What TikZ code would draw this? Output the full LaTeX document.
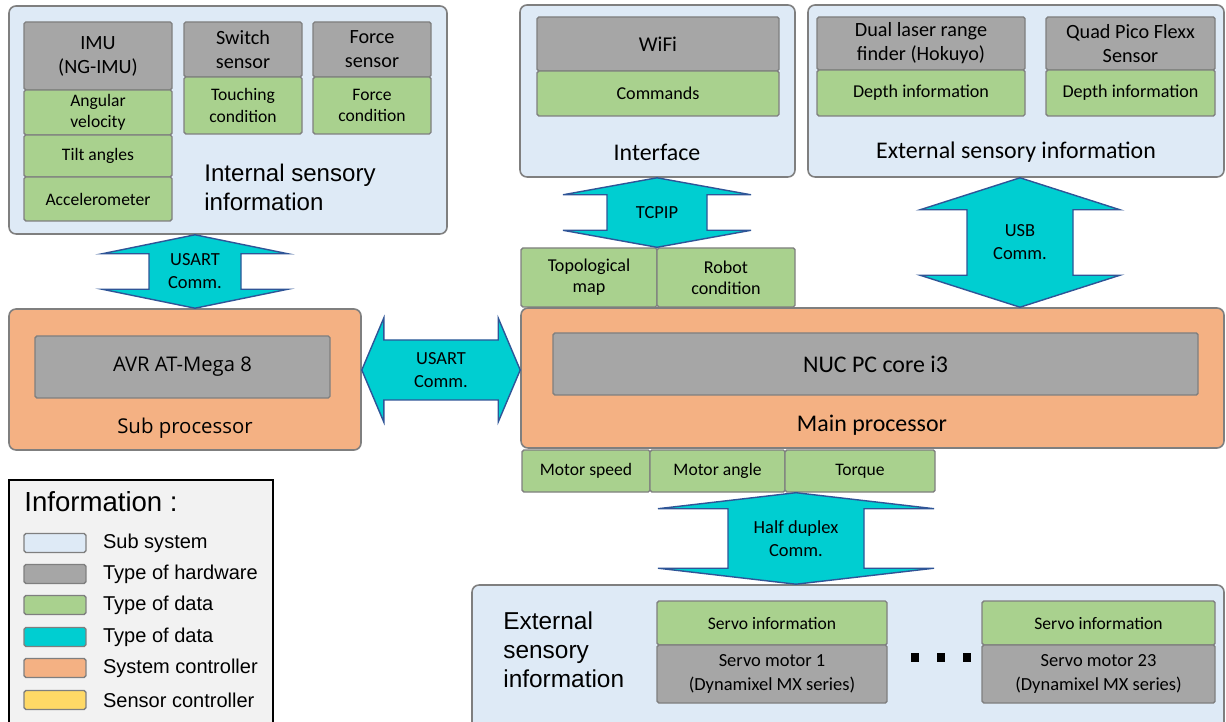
\documentclass[tikz,border=0pt]{standalone}
\usepackage{fontspec}
\setmainfont{Carlito}
\newfontfamily\arialfont{Liberation Sans}
\newfontfamily\segoefont{Open Sans}
\usetikzlibrary{calc,positioning}

\definecolor{subsysblue}{HTML}{DEEAF6}
\definecolor{hwgray}{HTML}{A6A6A6}
\definecolor{datagreen}{HTML}{A9D18E}
\definecolor{commcyan}{HTML}{00CED1}
\definecolor{ctrlorange}{HTML}{F4B183}
\definecolor{sensyellow}{HTML}{FFD966}
\definecolor{legendbg}{HTML}{F2F2F2}
\definecolor{boxborder}{HTML}{7F7F7F}
\definecolor{arrowborder}{HTML}{2F5597}

\newcommand\fsz[2]{\fontsize{#1pt}{#2pt}\selectfont}

% vertical two-headed link: upper node, lower node, x coordinate, shaft half, head half, head length, label
\newcommand\vcomm[7]{%
  \draw[comm] (#3 |- #1.south) -- ++(#5,#6) -- ++({#4-#5},0)
    -- ($(#3 |- #2.north)+(#4,-#6)$) -- ++({#5-#4},0) -- (#3 |- #2.north)
    -- ++(-#5,-#6) -- ++({#5-#4},0) -- ($(#3 |- #1.south)+(-#4,#6)$)
    -- ++({#4-#5},0) -- cycle;
  \node[commlabel] at ($(#3 |- #1.south)!0.5!(#3 |- #2.north)$) {#7};}

% horizontal two-headed link: left node, right node, y coordinate, shaft half, head half, head length, label
\newcommand\hcomm[7]{%
  \draw[comm] (#1.east |- #3) -- ++(#6,-#5) -- ++(0,{#5-#4})
    -- ($(#2.west |- #3)+(-#6,-#4)$) -- ++(0,{#4-#5}) -- (#2.west |- #3)
    -- ++(-#6,#5) -- ++(0,{#4-#5}) -- ($(#1.east |- #3)+(#6,#4)$)
    -- ++(0,{#5-#4}) -- cycle;
  \node[commlabel] at ($(#1.east |- #3)!0.5!(#2.west |- #3)$) {#7};}

\tikzset{
  box/.style n args={4}{at={({(#1+#3)/2},{(#2+#4)/2})}, minimum width={(#3-#1)*0.02cm}, minimum height={(#4-#2)*0.02cm}},
  subsys/.style={draw=boxborder, fill=subsysblue, line width=0.9pt, rounded corners=4pt, inner sep=0pt},
  ctrl/.style={draw=boxborder, fill=ctrlorange, line width=0.9pt, rounded corners=4pt, inner sep=0pt},
  hw/.style={draw=boxborder, fill=hwgray, line width=0.8pt, rounded corners=1pt, inner sep=0pt, align=center, font=\fsz{11.5}{13.6}},
  data/.style={draw=boxborder, fill=datagreen, line width=0.8pt, rounded corners=1pt, inner sep=0pt, align=center, font=\fsz{10}{12}},
  comm/.style={draw=arrowborder, fill=commcyan, line width=0.8pt, line join=miter},
  commlabel/.style={align=center, font=\fsz{10.5}{13}},
  boxtitle/.style={font=\fsz{13.6}{16.4}},
  swatch/.style={draw=boxborder, line width=0.8pt, rounded corners=1pt, minimum width=1.24cm, minimum height=0.38cm, inner sep=0pt},
  legtext/.style={font=\arialfont\fsz{11.4}{13.6}, inner sep=0pt, anchor=west}
}

\begin{document}
\begin{tikzpicture}[x=0.02cm, y=-0.02cm]
  \useasboundingbox (0,0) rectangle (1226,722);

  % Internal sensory information
  \node[subsys, box={9}{6}{447}{234}] (internal) {};
  \node[hw, box={24}{22}{172}{90}] (imu) {IMU\\(NG-IMU)};
  \node[data, box={24}{90}{172}{135}] (angvel) {Angular\\velocity};
  \node[data, box={24}{135}{172}{177}] (tilt) {Tilt angles};
  \node[data, box={24}{177}{172}{221}] (accel) {Accelerometer};
  \node[hw, box={184}{22}{302}{77}] (switch) {Switch\\sensor};
  \node[data, box={184}{77}{302}{134}] (touch) {Touching\\condition};
  \node[hw, box={313}{22}{431}{77}] (force) {Force\\sensor};
  \node[data, box={313}{77}{431}{134}] (forcecond) {Force\\condition};
  \node[anchor=west, align=left, inner sep=0pt, font=\arialfont\fsz{13.7}{16.4}] (internaltxt) at (204,187) {Internal sensory\\information};

  % Interface
  \node[subsys, box={520}{5}{795}{177}] (interface) {};
  \node[hw, box={537}{17}{779}{71}, font=\fsz{12}{14}] (wifi) {WiFi};
  \node[data, box={537}{71}{779}{116}, font=\fsz{10.3}{12}] (commands) {Commands};
  \node[boxtitle] (interfacetxt) at (657,152) {Interface};

  % External sensory information (top)
  \node[subsys, box={808}{5}{1224}{177}] (extsens) {};
  \node[hw, box={817}{17}{1025}{70}] (laser) {Dual laser range\\finder (Hokuyo)};
  \node[data, box={817}{70}{1025}{116}, font=\fsz{10.3}{12}] (laserdepth) {Depth information};
  \node[hw, box={1046}{17}{1215}{70}] (pico) {Quad Pico Flexx\\Sensor};
  \node[data, box={1046}{70}{1215}{116}, font=\fsz{10.3}{12}] (picodepth) {Depth information};
  \node[boxtitle] (extsenstxt) at (1016,152) {External sensory information};

  % Data above the main processor
  \node[data, box={521}{248}{657}{307}, font=\fsz{10.3}{12}] (topo) {Topological\\map};
  \node[data, box={657}{248}{795}{307}, font=\fsz{10.3}{12}] (robot) {Robot\\condition};

  % Sub processor
  \node[ctrl, box={9}{309}{361}{450}] (sub) {};
  \node[hw, box={35}{336}{330}{398}, font=\segoefont\fsz{11.5}{14}] (avr) {AVR AT-Mega 8};
  \node[font=\segoefont\fsz{11.6}{14}] (subtxt) at (185,428) {Sub processor};

  % Main processor
  \node[ctrl, box={521}{308}{1224}{448}] (main) {};
  \node[hw, box={553}{333}{1198}{395}, font=\fsz{13.6}{16}] (nuc) {NUC PC core i3};
  \node[boxtitle] (maintxt) at (872,425) {Main processor};

  % Data below the main processor
  \node[data, box={522}{450}{650}{492}] (speed) {Motor speed};
  \node[data, box={650}{450}{785}{492}] (angle) {Motor angle};
  \node[data, box={785}{450}{935}{492}] (torque) {Torque};

  % Servo motors
  \node[subsys, box={472}{585}{1224}{745}] (servos) {};
  \node[anchor=west, align=left, inner sep=0pt, font=\arialfont\fsz{13.9}{16.4}] (servostxt) at (503,650) {External\\sensory\\information};
  \node[data, box={657}{601}{887}{645}] (servoinfoa) {Servo information};
  \node[hw, box={657}{645}{887}{703}, font=\fsz{10.5}{13.6}] (servoa) {Servo motor 1\\(Dynamixel MX series)};
  \node[data, box={982}{601}{1215}{645}] (servoinfob) {Servo information};
  \node[hw, box={982}{645}{1215}{703}, font=\fsz{10.5}{13.6}] (servob) {Servo motor 23\\(Dynamixel MX series)};
  \fill (911,653) rectangle (919,662);
  \fill (937,653) rectangle (945,662);
  \fill (963,653) rectangle (971,662);

  % Communication links
  \coordinate (usartx) at (195,0);
  \coordinate (tcpipx) at (657,0);
  \coordinate (usbx) at (1020,0);
  \coordinate (halfx) at (796,0);
  \coordinate (usarty) at (0,370);
  \vcomm{internal}{sub}{usartx}{46}{93}{19}{USART\\Comm.}
  \vcomm{interface}{topo}{tcpipx}{50}{94}{17}{TCPIP}
  \vcomm{extsens}{main}{usbx}{53}{100}{32}{USB\\Comm.}
  \vcomm{torque}{servos}{halfx}{68}{138}{16}{Half duplex\\Comm.}
  \hcomm{sub}{main}{usarty}{30}{52}{22}{USART\\Comm.}

  % Legend
  \node[draw=black, fill=legendbg, line width=0.9pt, inner sep=0pt, box={9}{480}{273}{745}] (legend) {};
  \node[anchor=west, inner sep=0pt, font=\arialfont\fsz{15.7}{18}] (legendtxt) at (24,502) {Information :};
  \node[swatch, fill=subsysblue] (lsub) at (55,543) {};
  \node[legtext, right=0.32cm of lsub] (lsubtxt) {Sub system};
  \node[swatch, fill=hwgray] (lhw) at (55,574) {};
  \node[legtext, right=0.32cm of lhw] (lhwtxt) {Type of hardware};
  \node[swatch, fill=datagreen] (ldata) at (55,605) {};
  \node[legtext, right=0.32cm of ldata] (ldatatxt) {Type of data};
  \node[swatch, fill=commcyan] (lcomm) at (55,637) {};
  \node[legtext, right=0.32cm of lcomm] (lcommtxt) {Type of data};
  \node[swatch, fill=ctrlorange] (lctrl) at (55,668) {};
  \node[legtext, right=0.32cm of lctrl] (lctrltxt) {System controller};
  \node[swatch, fill=sensyellow] (lsens) at (55,700) {};
  \node[legtext, right=0.32cm of lsens] (lsenstxt) {Sensor controller};

\end{tikzpicture}
\end{document}
